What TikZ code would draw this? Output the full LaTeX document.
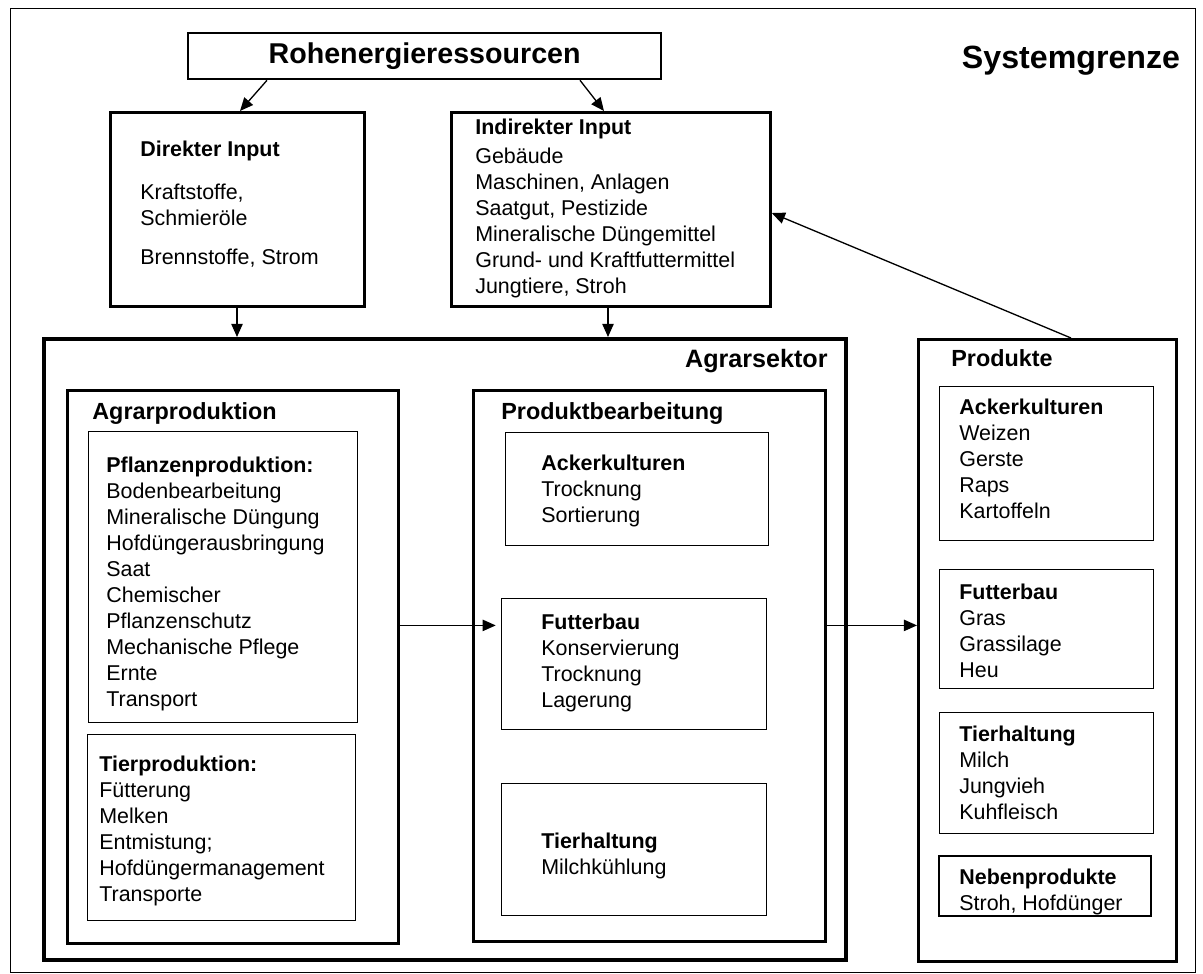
\documentclass[tikz,border=0pt]{standalone}
\usepackage{fontspec}
\setmainfont{Liberation Sans}
\usetikzlibrary{arrows.meta}
\newcommand{\bodyfont}{\fontsize{12.2}{14.8}\selectfont}
\begin{document}
\begin{tikzpicture}[
    bigbox/.style={draw, line width=1.6pt, anchor=north west, inner sep=0pt},
    smallbox/.style={draw, line width=0.6pt, anchor=north west, inner sep=0pt},
    txt/.style={anchor=north west, align=left, inner sep=0pt, font=\bodyfont},
    head/.style={anchor=base west, inner sep=0pt, font=\fontsize{13.3}{16}\selectfont\bfseries},
    arr/.style={-{Triangle[length=7.5pt,width=6.5pt]}, line width=0.75pt}]
    \useasboundingbox (0,0) rectangle (24.06,-19.48);
    % system boundary
    \node[smallbox, minimum width=23.70cm, minimum height=19.28cm] at (0.20,-0.16) (sysbox) {};
    \node[anchor=base, inner sep=0pt, font=\fontsize{18.3}{22}\selectfont\bfseries] at (21.42,-1.36) (systitle) {Systemgrenze};
    % inputs
    \node[draw, line width=1.3pt, anchor=north west, minimum width=9.46cm, minimum height=0.92cm, font=\fontsize{16.3}{19}\selectfont\bfseries] at (3.74,-0.64) (rohen) {Rohenergieressourcen};
    \node[bigbox, minimum width=5.08cm, minimum height=3.88cm] at (2.18,-2.22) (direkt) {};
    \node[txt] at (2.80,-2.81) (direktText) {\textbf{Direkter Input}\\[0.34cm] Kraftstoffe,\\ Schmieröle\\[0.26cm] Brennstoffe, Strom};
    \node[bigbox, minimum width=6.38cm, minimum height=3.88cm] at (9.00,-2.22) (indirekt) {};
    \node[txt] at (9.50,-2.37) (indirektText) {\textbf{Indirekter Input}\\[0.06cm] Gebäude\\ Maschinen, Anlagen\\ Saatgut, Pestizide\\ Mineralische Düngemittel\\ Grund- und Kraftfuttermittel\\ Jungtiere, Stroh};
    % agricultural sector
    \node[draw, line width=2.4pt, anchor=north west, inner sep=0pt, minimum width=16.04cm, minimum height=12.42cm] at (0.84,-6.74) (agrarsektor) {};
    \node[anchor=base east, inner sep=0pt, font=\fontsize{14.3}{17}\selectfont\bfseries] at (16.56,-7.34) (agrarTitle) {Agrarsektor};
    \node[bigbox, minimum width=6.62cm, minimum height=11.06cm] at (1.32,-7.78) (agrprod) {};
    \node[head] at (1.84,-8.38) (agrprodTitle) {Agrarproduktion};
    \node[smallbox, minimum width=5.38cm, minimum height=5.82cm] at (1.76,-8.62) (pflanzen) {};
    \node[txt] at (2.12,-9.13) (pflanzenText) {\textbf{Pflanzenproduktion:}\\ Bodenbearbeitung\\ Mineralische Düngung\\ Hofdüngerausbringung\\ Saat\\ Chemischer\\ Pflanzenschutz\\ Mechanische Pflege\\ Ernte\\ Transport};
    \node[smallbox, minimum width=5.36cm, minimum height=3.72cm] at (1.74,-14.68) (tier) {};
    \node[txt] at (1.98,-15.11) (tierText) {\textbf{Tierproduktion:}\\ Fütterung\\ Melken\\ Entmistung;\\ Hofdüngermanagement\\ Transporte};
    \node[bigbox, minimum width=7.04cm, minimum height=11.02cm] at (9.44,-7.78) (pbearb) {};
    \node[head] at (10.02,-8.38) (pbearbTitle) {Produktbearbeitung};
    \node[smallbox, minimum width=5.26cm, minimum height=2.26cm] at (10.10,-8.64) (pbacker) {};
    \node[txt] at (10.82,-9.09) (pbackerText) {\textbf{Ackerkulturen}\\ Trocknung\\ Sortierung};
    \node[smallbox, minimum width=5.30cm, minimum height=2.62cm] at (10.02,-11.96) (pbfutter) {};
    \node[txt] at (10.82,-12.27) (pbfutterText) {\textbf{Futterbau}\\ Konservierung\\ Trocknung\\ Lagerung};
    \node[smallbox, minimum width=5.30cm, minimum height=2.64cm] at (10.02,-15.66) (pbtier) {};
    \node[txt] at (10.82,-16.65) (pbtierText) {\textbf{Tierhaltung}\\ Milchkühlung};
    % products
    \node[bigbox, minimum width=5.16cm, minimum height=12.44cm] at (18.34,-6.76) (produkte) {};
    \node[head] at (19.02,-7.32) (produkteTitle) {Produkte};
    \node[smallbox, minimum width=4.28cm, minimum height=3.08cm] at (18.78,-7.72) (packer) {};
    \node[txt] at (19.18,-7.97) (packerText) {\textbf{Ackerkulturen}\\ Weizen\\ Gerste\\ Raps\\ Kartoffeln};
    \node[smallbox, minimum width=4.28cm, minimum height=2.38cm] at (18.78,-11.38) (pfutter) {};
    \node[txt] at (19.18,-11.67) (pfutterText) {\textbf{Futterbau}\\ Gras\\ Grassilage\\ Heu};
    \node[smallbox, minimum width=4.28cm, minimum height=2.42cm] at (18.78,-14.24) (ptier) {};
    \node[txt] at (19.18,-14.51) (ptierText) {\textbf{Tierhaltung}\\ Milch\\ Jungvieh\\ Kuhfleisch};
    \node[draw, line width=1.3pt, anchor=north west, inner sep=0pt, minimum width=4.24cm, minimum height=1.20cm] at (18.76,-17.10) (neben) {};
    \node[txt] at (19.18,-17.37) (nebenText) {\textbf{Nebenprodukte}\\ Stroh, Hofdünger};
    % arrows
    \draw[arr] ([xshift=1.60cm]rohen.south west) -- ([xshift=2.62cm]direkt.north west);
    \draw[arr] ([xshift=7.86cm]rohen.south west) -- ([xshift=3.08cm]indirekt.north west);
    \draw[arr] ([xshift=2.56cm]direkt.south west) -- ([xshift=2.56cm]direkt.south west |- agrarsektor.north);
    \draw[arr] ([xshift=3.16cm]indirekt.south west) -- ([xshift=3.16cm]indirekt.south west |- agrarsektor.north);
    \draw[arr] ([xshift=3.08cm]produkte.north west) -- ([yshift=-2.04cm]indirekt.north east);
    \draw[arr, shorten >=3pt] ([yshift=0.83cm]agrprod.east) -- ([yshift=0.83cm]agrprod.east -| pbfutter.west);
    \draw[arr] ([yshift=0.81cm]pbearb.east) -- ([yshift=0.81cm]pbearb.east -| produkte.west);
\end{tikzpicture}
\end{document}
